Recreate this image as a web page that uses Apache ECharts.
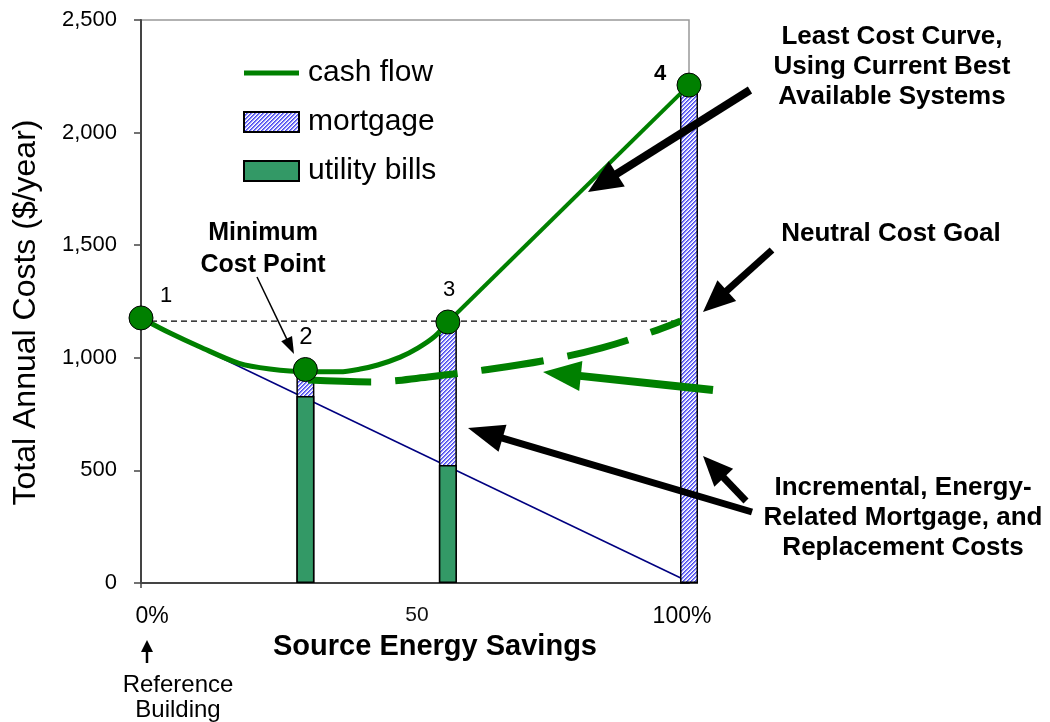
<!DOCTYPE html>
<html>
<head>
<meta charset="utf-8">
<script src="https://cdn.jsdelivr.net/npm/echarts@6/dist/echarts.min.js"></script>
<style>
  html, body { margin: 0; padding: 0; background: #fff; }
  #chart { width: 1050px; height: 722px; }
</style>
</head>
<body>
<div id="chart"></div>
<script>
// values (x = % source energy savings, y = $/year)
const barX = [30, 56, 100];
const utilityBills = [830, 524, 0];
const mortgage = [115, 635, 2211];

const cashCurveX = [0, 5.3, 10.8, 17.9, 23.5, 30.1, 36.3, 40, 43.2, 47.3, 50.5, 53.6, 56];
const cashCurveY = [1177, 1110, 1048, 975, 950, 938, 938, 950, 968, 1003, 1043, 1095, 1159];
const cashLineX = [56, 100];
const cashLineY = [1159, 2211];

const pointX = [0, 30, 56, 100];
const pointY = [1177, 948, 1159, 2211];
const pointNames = ['1', '2', '3', '4'];

const utilityLineX = [0, 98.5];
const utilityLineY = [1170, 22];

const neutralX = [0, 98.5];
const neutralY = [1163, 1163];

const goalX = [30.5, 42.2, 52.4, 62.6, 74.1, 84.1, 94.2, 98.5];
const goalY = [901, 893, 915, 946, 990, 1044, 1123, 1163];

const xTickValues = [0, 50, 100];
const xTickLabels = ['0%', '50', '100%'];

const F = '"Liberation Sans", Arial, sans-serif';
const GREEN = '#008000';

function zip(xs, ys) { return xs.map((x, i) => [x, ys[i]]); }

// blue diagonal hatch like the excel fill
function makeHatch() {
  const shades = ['#7c7cf4', '#d4d4fb', '#ffffff', '#4c4cf0'];
  const c = document.createElement('canvas');
  c.width = 4; c.height = 4;
  const g = c.getContext('2d');
  for (let y = 0; y < 4; y++) {
    for (let x = 0; x < 4; x++) {
      g.fillStyle = shades[(x + y) % 4];
      g.fillRect(x, y, 1, 1);
    }
  }
  return { image: c, repeat: 'repeat' };
}

// straight arrow: shaft + triangular head
function arrow(x1, y1, x2, y2, w, color, hl, hw) {
  const dx = x2 - x1, dy = y2 - y1;
  const len = Math.hypot(dx, dy);
  const ux = dx / len, uy = dy / len;
  const bx = x2 - ux * hl, by = y2 - uy * hl;
  return [
    { type: 'line', z: 100, shape: { x1: x1, y1: y1, x2: bx + ux, y2: by + uy },
      style: { stroke: color, lineWidth: w } },
    { type: 'polygon', z: 100,
      shape: { points: [[x2, y2], [bx - uy * hw, by + ux * hw], [bx + uy * hw, by - ux * hw]] },
      style: { fill: color } }
  ];
}

function label(x, y, text, size, bold, align, lh) {
  return {
    type: 'text', z: 100, x: x, y: y,
    style: {
      text: text, font: (bold ? 'bold ' : '') + size + 'px ' + F,
      fill: '#000', align: align || 'center', verticalAlign: 'middle',
      lineHeight: lh || size
    }
  };
}

const hatch = makeHatch();
const chart = echarts.init(document.getElementById('chart'));

const graphics = [].concat(
  label(892, 67, 'Least Cost Curve,\nUsing Current Best\nAvailable Systems', 26, true, 'center', 30),
  label(891, 234, 'Neutral Cost Goal', 26, true),
  label(903, 518, 'Incremental, Energy-\nRelated Mortgage, and\nReplacement Costs', 26, true, 'center', 30),
  label(263, 249, 'Minimum\nCost Point', 25, true, 'center', 32),
  label(166, 296, pointNames[0], 22, false),
  label(306, 337, pointNames[1], 24, false),
  label(449, 290, pointNames[2], 22, false),
  label(660, 74, pointNames[3], 22, true),
  label(178, 698, 'Reference\nBuilding', 24, false, 'center', 25),
  arrow(750, 90, 588, 192, 8, '#000', 34, 15),
  arrow(772, 250, 703, 312, 7, '#000', 32, 14),
  arrow(713, 390, 543, 372, 8, GREEN, 38, 15),
  arrow(752, 512, 468, 428, 7, '#000', 36, 14),
  arrow(746, 501, 703, 456, 7, '#000', 30, 13),
  arrow(257, 277, 294, 354, 1.5, '#000', 17, 6),
  arrow(147, 663, 147, 640, 2.5, '#000', 12, 6)
);

chart.setOption({
  animation: false,
  backgroundColor: '#fff',
  grid: {
    left: 141, right: 361, top: 20, bottom: 139,
    show: true, borderColor: '#999', borderWidth: 1.5,
    outerBoundsMode: 'none'
  },
  legend: {
    orient: 'vertical', left: 238, top: 53,
    itemWidth: 55, itemHeight: 20, itemGap: 19,
    symbolKeepAspect: true,
    data: [
      { name: 'cash flow', icon: 'path://M0,0L55,0L55,5L0,5Z' },
      { name: 'mortgage', icon: 'rect' },
      { name: 'utility bills', icon: 'rect' }
    ],
    textStyle: { fontSize: 30, fontFamily: F, color: '#000', padding: [0, 0, 0, 4] },
    selectedMode: false
  },
  xAxis: {
    type: 'value', min: 0, max: 100,
    name: 'Source Energy Savings', nameLocation: 'middle', nameGap: 40,
    nameTextStyle: { fontSize: 29, fontWeight: 'bold', fontFamily: F, color: '#000', padding: [0, 0, 0, 40] },
    axisLine: { show: true, lineStyle: { color: '#444', width: 2 } },
    axisTick: { show: true, customValues: [0], length: 5, lineStyle: { color: '#444', width: 1.5 } },
    axisLabel: {
      customValues: xTickValues, margin: 22, fontSize: 22, fontFamily: F, color: '#000',
      formatter: function (v) {
        const i = xTickValues.indexOf(v);
        const t = i >= 0 ? xTickLabels[i] : '';
        if (i === 0) return '{a|' + t + '}';
        if (i === 2) return '{c|' + t + '}';
        return '{b|' + t + '}';
      },
      rich: {
        a: { fontSize: 23, fontFamily: F, color: '#000', padding: [0, 0, 0, 22] },
        b: { fontSize: 21, fontFamily: F, color: '#111', padding: [0, 0, 0, 4] },
        c: { fontSize: 23, fontFamily: F, color: '#000', padding: [0, 14, 0, 0] }
      }
    },
    splitLine: { show: false }
  },
  yAxis: {
    type: 'value', min: 0, max: 2500, interval: 500,
    name: 'Total Annual Costs ($/year)', nameLocation: 'middle', nameGap: 99,
    nameTextStyle: { fontSize: 32, fontFamily: F, color: '#000', padding: [0, 22, 0, 0] },
    axisLine: { show: true, lineStyle: { color: '#444', width: 2 } },
    axisTick: { show: true, length: 7, lineStyle: { color: '#444', width: 1.5 } },
    axisLabel: {
      fontSize: 22, fontFamily: F, color: '#000', margin: 24,
      formatter: function (v) { return v.toLocaleString('en-US'); }
    },
    splitLine: { show: false }
  },
  series: [
    {
      name: 'utility line', type: 'line', data: zip(utilityLineX, utilityLineY),
      symbol: 'none', silent: true, clip: false, z: 1,
      lineStyle: { color: '#000080', width: 1.5 }
    },
    {
      // mortgage sits on top of utility bills: full bar drawn to the summed height
      name: 'mortgage', type: 'bar', barWidth: 18, barGap: '-100%', clip: false, z: 2,
      data: barX.map((x, i) => [x, utilityBills[i] + mortgage[i]]),
      itemStyle: { color: hatch, borderColor: '#000', borderWidth: 1.5 }
    },
    {
      name: 'utility bills', type: 'bar', barWidth: 18, barGap: '-100%', clip: false, z: 3,
      data: zip(barX, utilityBills),
      itemStyle: { color: '#339966', borderColor: '#000', borderWidth: 1.5 }
    },
    {
      name: 'neutral', type: 'line', data: zip(neutralX, neutralY),
      symbol: 'none', silent: true, clip: false, z: 3,
      lineStyle: { color: '#000', width: 1.3, type: [6, 4] }
    },
    {
      name: 'cash flow', type: 'line', data: zip(cashCurveX, cashCurveY),
      smooth: 0.3, symbol: 'none', clip: false, z: 4,
      lineStyle: { color: GREEN, width: 5 }, itemStyle: { color: GREEN }
    },
    {
      name: 'cash flow', type: 'line', data: zip(cashLineX, cashLineY),
      symbol: 'none', clip: false, z: 4,
      lineStyle: { color: GREEN, width: 4 }, itemStyle: { color: GREEN }
    },
    {
      name: 'goal', type: 'line', data: zip(goalX, goalY),
      smooth: 0.4, symbol: 'none', silent: true, clip: false, z: 5,
      lineStyle: { color: GREEN, width: 7, type: [63, 24], cap: 'butt' }
    },
    {
      name: 'points', type: 'scatter', data: zip(pointX, pointY),
      symbolSize: 24, clip: false, z: 6,
      itemStyle: { color: GREEN, opacity: 1, borderColor: '#000', borderWidth: 1 }
    }
  ],
  graphic: { elements: graphics }
});
</script>
</body>
</html>
